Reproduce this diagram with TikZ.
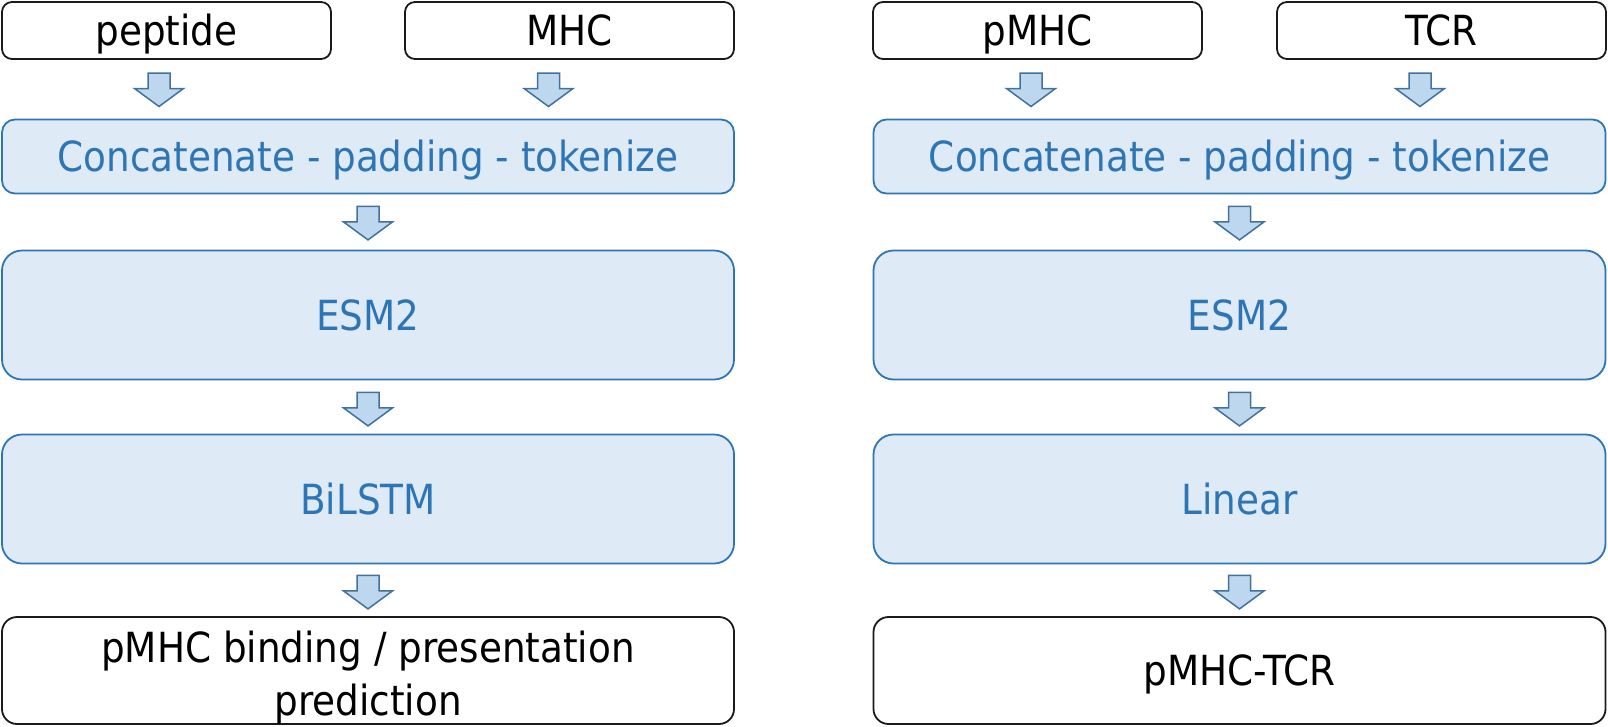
\documentclass[tikz,border=0pt]{standalone}
\usepackage{fontspec}
\IfFontExistsTF{DejaVu Sans Condensed}{\setmainfont{DejaVu Sans Condensed}}{\setmainfont[FakeStretch=0.9]{DejaVu Sans}}
\definecolor{bstroke}{HTML}{2E75B6}
\definecolor{bfill}{HTML}{DEEBF7}
\definecolor{afill}{HTML}{BDD7EE}
\definecolor{astroke}{HTML}{41719C}
\definecolor{kstroke}{HTML}{1A1A1A}
\tikzset{
  base/.style={inner sep=0pt, align=center, font=\fontsize{41.5}{53}\selectfont, line width=1.8pt},
  oneline/.style={text height=30pt, text depth=0pt},
  inbox/.style={base, oneline, draw=kstroke, fill=white, text=black, rounded corners=10pt, minimum width=329pt, minimum height=57pt},
  concatbox/.style={base, oneline, draw=bstroke, fill=bfill, text=bstroke, rounded corners=13pt, minimum width=732pt, minimum height=74pt},
  bigbox/.style={base, oneline, draw=bstroke, fill=bfill, text=bstroke, rounded corners=20pt, minimum width=732pt, minimum height=129pt},
  outbox/.style={base, draw=kstroke, fill=white, text=black, rounded corners=15pt, minimum width=732pt, minimum height=107pt},
  barrow/.pic={\draw[fill=afill, draw=astroke, line width=1.5pt, line join=miter]
     (-11pt,0pt) -- (11pt,0pt) -- (11pt,-15.5pt) -- (24.5pt,-15.5pt) -- (0pt,-33.5pt)
     -- (-24.5pt,-15.5pt) -- (-11pt,-15.5pt) -- cycle;}
}
\begin{document}
\begin{tikzpicture}[x=1pt,y=-1pt]
\useasboundingbox (0,0) rectangle (1608,726);
% left column
\node[inbox] (pep) at (166.5,30.5) {peptide};
\node[inbox] (mhc) at (569.5,30.5) {MHC};
\node[concatbox] (catL) at (368,156.5) {Concatenate - padding - tokenize};
\node[bigbox] (esmL) at (368,315) {ESM2};
\node[bigbox] (lstm) at (368,499) {BiLSTM};
\node[outbox] (outL) at (368,670.5) {};
\node[base, text=black] (outLtext) at ([yshift=-7.5pt]outL.center) {pMHC binding / presentation\\prediction};
% right column
\node[inbox] (pmhc) at (1037.5,30.5) {pMHC};
\node[inbox] (tcr) at (1441.5,30.5) {TCR};
\node[concatbox] (catR) at (1239.5,156.5) {Concatenate - padding - tokenize};
\node[bigbox] (esmR) at (1239.5,315) {ESM2};
\node[bigbox] (lin) at (1239.5,499) {Linear};
\node[outbox, oneline] (outR) at (1239.5,670.5) {pMHC-TCR};
% block arrows
\coordinate (a1) at (159,73);
\coordinate (a2) at (548.5,73);
\coordinate (a3) at (1031,73);
\coordinate (a4) at (1420,73);
\pic at (a1) {barrow};
\pic at (a2) {barrow};
\pic at (a3) {barrow};
\pic at (a4) {barrow};
\pic at ([yshift=-12pt]catL.south) {barrow};
\pic at ([yshift=-12pt]esmL.south) {barrow};
\pic at ([yshift=-11pt]lstm.south) {barrow};
\pic at ([yshift=-12pt]catR.south) {barrow};
\pic at ([yshift=-12pt]esmR.south) {barrow};
\pic at ([yshift=-11pt]lin.south) {barrow};
\end{tikzpicture}
\end{document}
